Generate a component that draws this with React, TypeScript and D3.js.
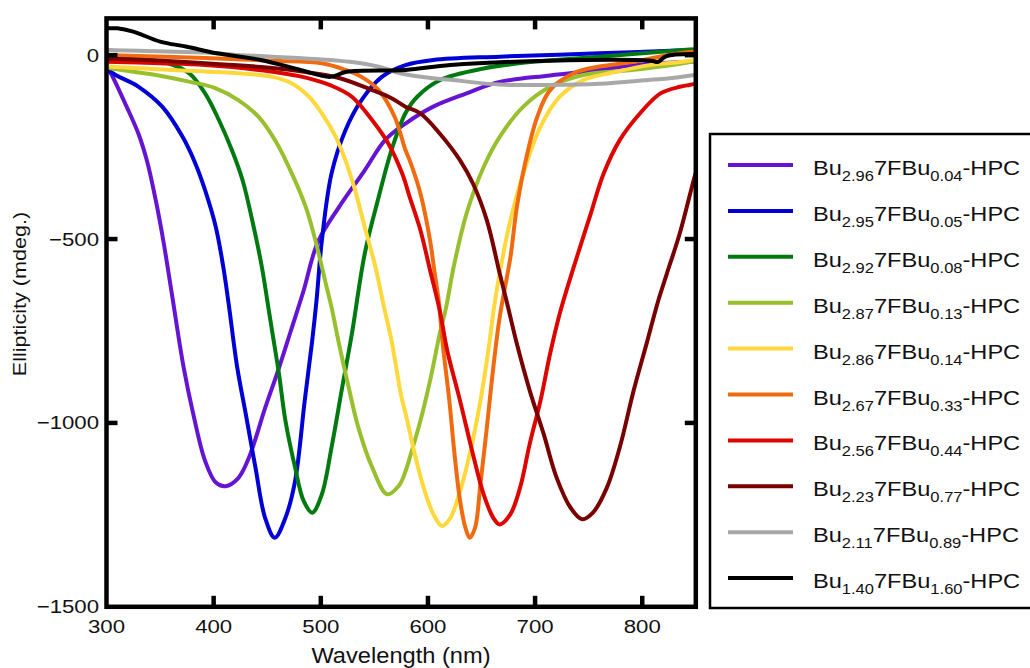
import React from 'react';
import * as d3 from 'd3';

const W = 1030;
const H = 668;

const xTicks = [300, 400, 500, 600, 700, 800];
const xTickLabels = ['300', '400', '500', '600', '700', '800'];
const yTicks = [0, -500, -1000, -1500];
const yTickLabels = ['0', '−500', '−1000', '−1500'];

const seriesColors = ['#6414d2', '#0000d6', '#007a10', '#98bf2e', '#ffd83c', '#f06a10', '#dd0500', '#780000', '#a8a8a8', '#000000'];
const leftFrac = ['2.96', '2.95', '2.92', '2.87', '2.86', '2.67', '2.56', '2.23', '2.11', '1.40'];
const rightFrac = ['0.04', '0.05', '0.08', '0.13', '0.14', '0.33', '0.44', '0.77', '0.89', '1.60'];

// [wavelength nm, ellipticity mdeg]
const bu296: [number, number][] = [[300, -32], [304, -49], [318, -135], [330, -215], [338, -290], [346, -395], [353, -504], [361, -649], [372, -849], [381, -976], [392, -1103], [402, -1162], [411, -1172], [423, -1150], [433, -1094], [448, -960], [461, -850], [472, -750], [484, -640], [497, -510], [517, -413], [541, -313], [560, -231], [579, -186], [605, -140], [636, -104], [665, -74], [714, -55], [760, -40], [800, -25], [844, -18], [850, -16]];
const bu295: [number, number][] = [[300, -25], [304, -45], [330, -86], [352, -140], [371, -222], [383, -295], [392, -367], [402, -467], [409, -576], [414, -676], [422, -849], [430, -976], [439, -1121], [448, -1258], [457, -1312], [467, -1258], [476, -1158], [485, -940], [492, -776], [496, -667], [501, -504], [510, -322], [523, -204], [538, -122], [557, -59], [579, -27], [605, -13], [667, -4], [760, 5], [844, 14], [850, 15]];
const bu292: [number, number][] = [[300, 2], [330, -10], [355, -20], [377, -49], [392, -104], [405, -177], [417, -258], [427, -340], [436, -449], [445, -576], [451, -685], [455, -758], [461, -867], [467, -994], [476, -1121], [484, -1212], [492, -1244], [501, -1194], [510, -1067], [520, -903], [529, -758], [541, -540], [554, -386], [566, -258], [579, -158], [590, -113], [611, -68], [652, -36], [698, -18], [760, -4], [838, 14], [850, 16]];
const bu287: [number, number][] = [[300, -33], [304, -36], [346, -54], [377, -72], [402, -90], [423, -122], [442, -168], [458, -235], [473, -322], [486, -413], [495, -504], [504, -613], [510, -685], [517, -785], [526, -903], [535, -1012], [548, -1121], [562, -1194], [573, -1170], [579, -1132], [585, -1075], [593, -994], [602, -885], [611, -758], [617, -685], [624, -576], [636, -431], [652, -304], [667, -222], [689, -140], [714, -86], [745, -54], [792, -40], [838, -22], [850, -15]];
const bu286: [number, number][] = [[300, -31], [361, -40], [423, -49], [455, -59], [473, -77], [489, -113], [501, -158], [514, -222], [523, -286], [532, -367], [541, -467], [551, -576], [559, -685], [566, -776], [575, -925], [580, -985], [587, -1076], [596, -1176], [605, -1248], [613, -1280], [621, -1258], [630, -1185], [639, -1085], [649, -940], [657, -790], [662, -680], [668, -576], [677, -449], [689, -322], [705, -195], [723, -113], [745, -68], [776, -45], [807, -27], [838, -18], [850, -12]];
const bu267: [number, number][] = [[300, 0], [304, 0], [392, -8], [455, -15], [501, -22], [523, -40], [538, -59], [554, -95], [569, -168], [579, -258], [583, -286], [593, -376], [602, -504], [606, -586], [610, -667], [614, -790], [620, -940], [625, -1090], [630, -1212], [635, -1285], [639, -1312], [644, -1285], [649, -1166], [655, -1012], [661, -849], [667, -712], [677, -549], [683, -413], [692, -277], [702, -168], [714, -95], [736, -49], [760, -31], [792, -18], [823, 0], [844, 9], [850, 10]];
const bu256: [number, number][] = [[300, -18], [350, -22], [392, -27], [455, -45], [486, -61], [510, -83], [529, -113], [548, -177], [563, -240], [576, -322], [583, -386], [593, -476], [602, -585], [611, -694], [618, -803], [630, -940], [642, -1085], [652, -1194], [661, -1258], [667, -1276], [677, -1248], [686, -1176], [695, -1057], [705, -940], [714, -812], [723, -703], [739, -549], [751, -440], [764, -322], [779, -231], [798, -158], [817, -104], [835, -86], [844, -81], [850, -78]];
const bu223: [number, number][] = [[300, -10], [304, -10], [392, -22], [455, -35], [486, -46], [517, -62], [548, -95], [566, -117], [579, -140], [593, -158], [611, -213], [630, -286], [642, -349], [655, -449], [667, -594], [674, -676], [683, -785], [695, -912], [708, -1030], [720, -1148], [733, -1230], [744, -1262], [754, -1244], [767, -1176], [779, -1067], [792, -912], [804, -785], [815, -667], [823, -594], [835, -485], [848, -340], [850, -320]];
const bu211: [number, number][] = [[300, 15], [304, 14], [392, 7], [419, 1], [455, -4], [527, -18], [555, -32], [574, -49], [605, -63], [621, -67], [667, -80], [714, -81], [760, -78], [808, -67], [826, -63], [844, -56], [850, -53]];
const bu140: [number, number][] = [[300, 73], [310, 73], [325, 64], [350, 37], [375, 23], [403, 5], [444, -13], [481, -40], [509, -59], [524, -45], [579, -40], [621, -27], [714, -15], [808, -15], [815, -18], [822, -3], [850, 3]];

const allSeries = [bu296, bu295, bu292, bu287, bu286, bu267, bu256, bu223, bu211, bu140];

const plot = { left: 106.5, right: 695.8, top: 18.4, bottom: 606.8 };
const FONT = '"Liberation Sans", Arial, Helvetica, sans-serif';

export default function App() {
  const x = d3.scaleLinear().domain([300, 850]).range([plot.left, plot.right]);
  const y = d3.scaleLinear().domain([-1500, 100]).range([plot.bottom, plot.top]);
  const line = d3
    .line<[number, number]>()
    .x((d) => x(d[0]))
    .y((d) => y(d[1]))
    .curve(d3.curveCatmullRom.alpha(0.5));

  const tickLen = 11;
  const legendX = 710;
  const legendY = 134;
  const rowY0 = 165;
  const rowDy = 45.9;

  return (
    <svg
      width={W}
      height={H}
      style={{ position: 'absolute', left: 0, top: 0, background: '#fff' }}
      fontFamily={FONT}
    >
      <defs>
        <clipPath id="plotclip">
          <rect x={plot.left} y={plot.top} width={plot.right - plot.left} height={plot.bottom - plot.top} />
        </clipPath>
      </defs>
      <rect x={0} y={0} width={W} height={H} fill="#fff" />
      <g clipPath="url(#plotclip)">
        {allSeries.map((s, i) => (
          <path key={i} d={line(s) || ''} fill="none" stroke={seriesColors[i]} strokeWidth={4} strokeLinejoin="round" />
        ))}
      </g>
      <rect
        x={plot.left}
        y={plot.top}
        width={plot.right - plot.left}
        height={plot.bottom - plot.top}
        fill="none"
        stroke="#000"
        strokeWidth={4.5}
      />
      {xTicks.slice(1).map((t) => (
        <g key={'xt' + t}>
          <line x1={x(t)} x2={x(t)} y1={plot.bottom} y2={plot.bottom - tickLen} stroke="#000" strokeWidth={4.5} />
          <line x1={x(t)} x2={x(t)} y1={plot.top} y2={plot.top + tickLen} stroke="#000" strokeWidth={4.5} />
        </g>
      ))}
      {yTicks.slice(0, 3).map((t) => (
        <g key={'yt' + t}>
          <line x1={plot.left} x2={plot.left + tickLen} y1={y(t)} y2={y(t)} stroke="#000" strokeWidth={4.5} />
          <line x1={plot.right} x2={plot.right - tickLen} y1={y(t)} y2={y(t)} stroke="#000" strokeWidth={4.5} />
        </g>
      ))}
      {xTicks.map((t, i) => (
        <g key={'xl' + t} transform={`translate(${x(t)},633) scale(1.2,1)`}>
          <text textAnchor="middle" fontSize={18.5} fill="#111">
            {xTickLabels[i]}
          </text>
        </g>
      ))}
      {yTicks.map((t, i) => (
        <g key={'yl' + t} transform={`translate(99,${y(t) + 6.5}) scale(1.2,1)`}>
          <text textAnchor="end" fontSize={18.5} fill="#111">
            {yTickLabels[i]}
          </text>
        </g>
      ))}
      <g transform={`translate(401,663) scale(1.1,1)`}>
        <text textAnchor="middle" fontSize={21.5} fill="#111">
          Wavelength (nm)
        </text>
      </g>
      <g transform={`translate(26,294) rotate(-90) scale(1.2,1)`}>
        <text textAnchor="middle" fontSize={18} fill="#111">
          Ellipticity (mdeg.)
        </text>
      </g>
      <rect x={legendX} y={legendY} width={340} height={608 - legendY} fill="#fff" stroke="#000" strokeWidth={2.5} />
      {seriesColors.map((c, i) => {
        const cy = rowY0 + i * rowDy;
        return (
          <g key={'lg' + i}>
            <line x1={728} x2={793} y1={cy} y2={cy} stroke={c} strokeWidth={4} />
            <g transform={`translate(813,${cy + 10}) scale(1.18,1)`}>
              <text fontSize={20} fill="#111">
                Bu
                <tspan fontSize={14} dy={6}>
                  {leftFrac[i]}
                </tspan>
                <tspan fontSize={20} dy={-6}>
                  7FBu
                </tspan>
                <tspan fontSize={14} dy={6}>
                  {rightFrac[i]}
                </tspan>
                <tspan fontSize={20} dy={-6}>
                  -HPC
                </tspan>
              </text>
            </g>
          </g>
        );
      })}
    </svg>
  );
}
